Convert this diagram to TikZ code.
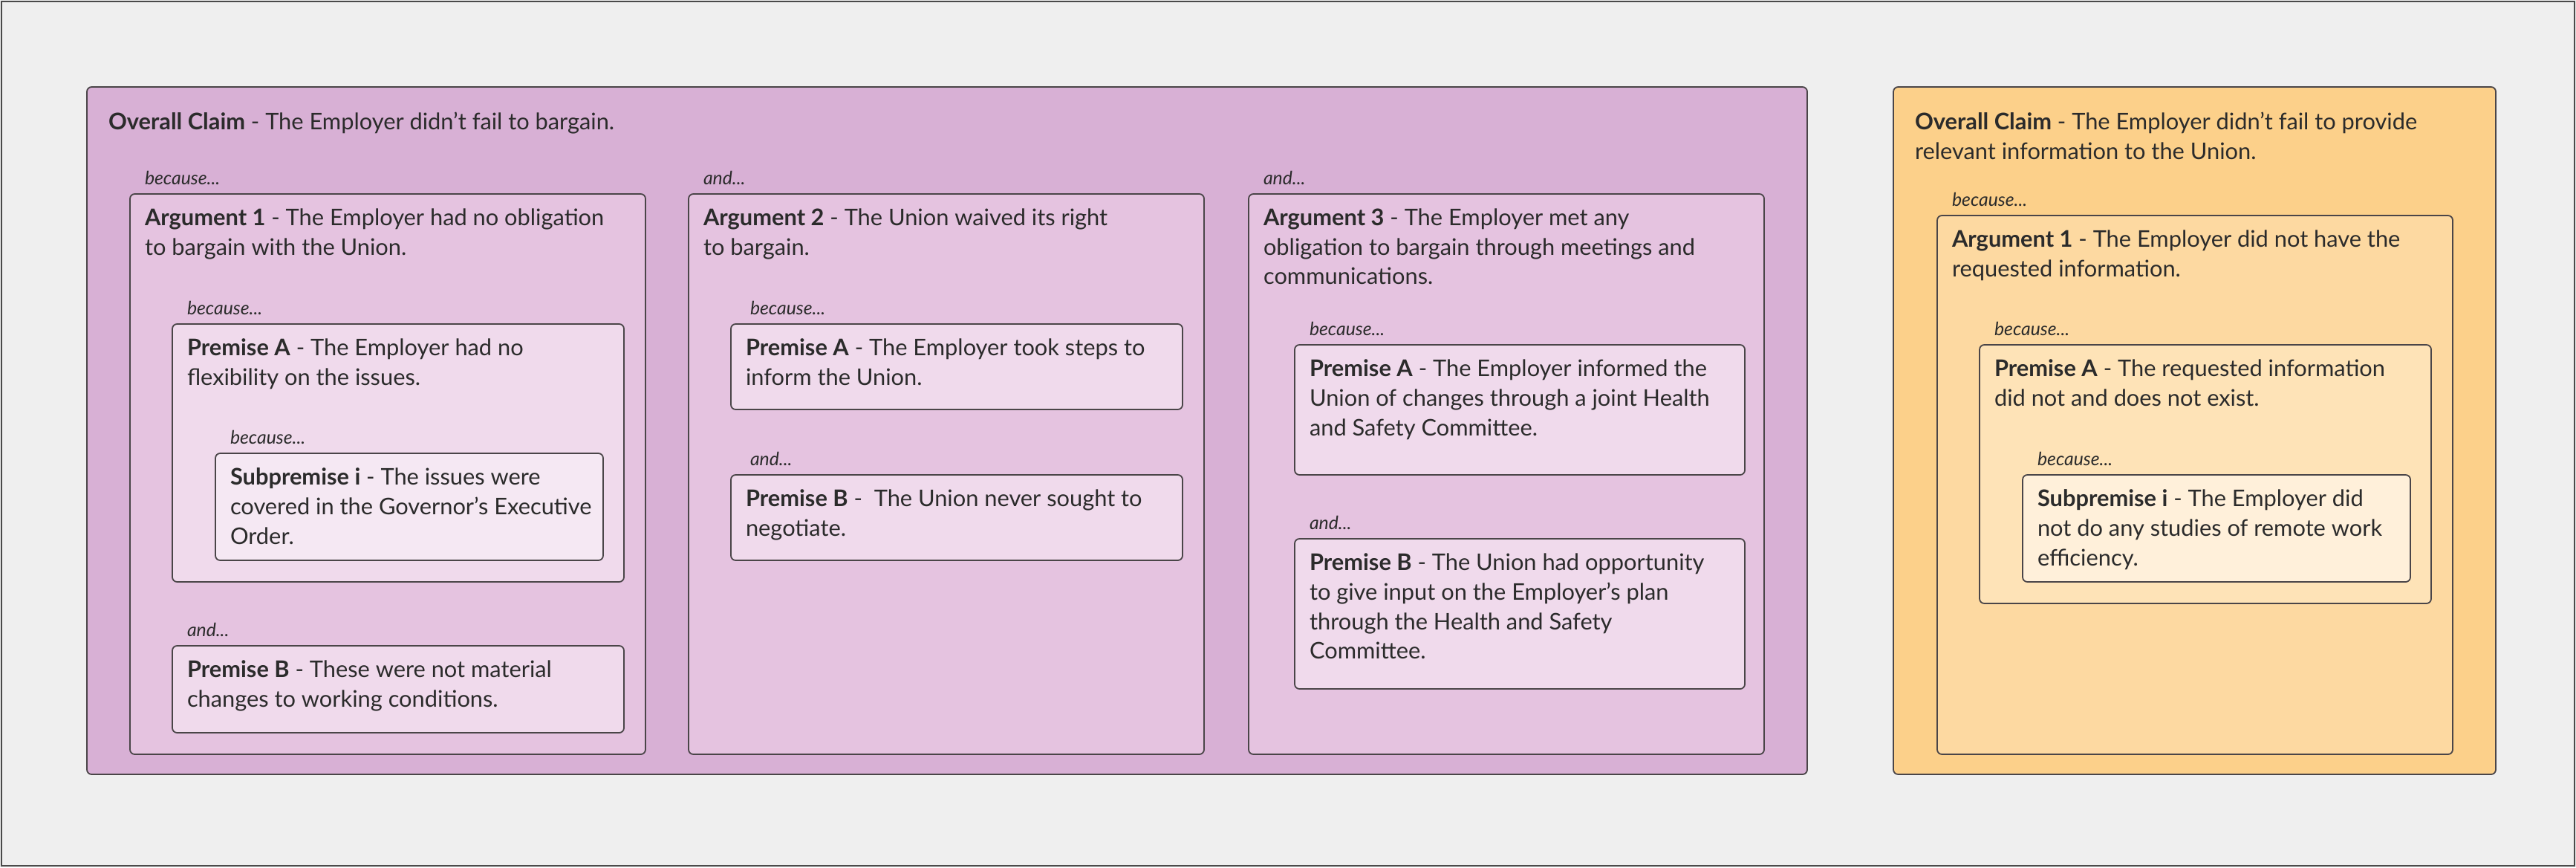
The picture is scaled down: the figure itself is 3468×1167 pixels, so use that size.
\documentclass[tikz,border=0pt]{standalone}
\usepackage{fontspec}
\setmainfont{Lato}
\usetikzlibrary{fit}

\definecolor{page background color}{HTML}{EFEFEF}
\definecolor{page frame color}{HTML}{4A4A4A}
\definecolor{box border color}{HTML}{4A4548}
\definecolor{text color}{HTML}{2B2B2B}
\definecolor{bargain color 1}{HTML}{D8B0D5}
\definecolor{bargain color 2}{HTML}{E5C3E0}
\definecolor{bargain color 3}{HTML}{F0DAEC}
\definecolor{bargain color 4}{HTML}{F5E8F3}
\definecolor{info color 1}{HTML}{FCD08A}
\definecolor{info color 2}{HTML}{FDD9A1}
\definecolor{info color 3}{HTML}{FEE3B7}
\definecolor{info color 4}{HTML}{FFF0DA}

\tikzset{
    x={0.25pt},
    y={-0.25pt},
    page background/.style={
        fill=page background color,
    },
    page frame/.style={
        draw=page frame color,
        line width={0.5pt},
    },
    box/.style={
        draw=box border color,
        fill={#1},
        line width={0.45pt},
        rounded corners={1.6pt},
        inner sep=0pt,
        outer sep=0pt,
    },
    box text/.style={
        anchor=north west,
        align=left,
        inner sep=0pt,
        outer sep=0pt,
        text=text color,
        font={\fontsize{7.7}{9.9}\selectfont},
    },
    link label/.style={
        anchor=south west,
        inner sep=0pt,
        outer sep=0pt,
        text=text color,
        font={\fontsize{6.2}{7}\selectfont\itshape},
    },
}

\begin{document}
\begin{tikzpicture}
% page
\useasboundingbox (0,0) rectangle (3468,1167);
\path[page background] (0,0) rectangle (3468,1167);
\path[page frame] (2,2) rectangle (3466,1165);
% claim: failure to bargain
\node[box={bargain color 1}, fit={(117,117) (2433,1042)}] (bargain) {};
\node[box text] (bargain text) at ([shift={(29,34)}]bargain.north west) {\textbf{Overall Claim} - The Employer didn’t fail to bargain.};
\node[box={bargain color 2}, fit={(175,261) (869,1015)}] (bargain arg1) {};
\node[box={bargain color 2}, fit={(927,261) (1621,1015)}] (bargain arg2) {};
\node[box={bargain color 2}, fit={(1681,261) (2375,1015)}] (bargain arg3) {};
\node[link label] at ([shift={(20,-12)}]bargain arg1.north west) (bargain arg1 link) {because...};
\node[link label] at ([shift={(20,-12)}]bargain arg2.north west) (bargain arg2 link) {and...};
\node[link label] at ([shift={(20,-12)}]bargain arg3.north west) (bargain arg3 link) {and...};
\node[box text] (bargain arg1 text) at ([shift={(20,20)}]bargain arg1.north west) {\textbf{Argument 1} - The Employer had no obligation\\to bargain with the Union.};
\node[box text] (bargain arg2 text) at ([shift={(20,20)}]bargain arg2.north west) {\textbf{Argument 2} - The Union waived its right\\to bargain.};
\node[box text] (bargain arg3 text) at ([shift={(20,20)}]bargain arg3.north west) {\textbf{Argument 3} - The Employer met any\\obligation to bargain through meetings and\\communications.};
% premises of argument 1
\node[box={bargain color 3}, fit={(232,436) (840,783)}] (bargain arg1 prem a) {};
\node[link label] at ([shift={(20,-12)}]bargain arg1 prem a.north west) (bargain arg1 prem a link) {because...};
\node[box text] (bargain arg1 prem a text) at ([shift={(20,20)}]bargain arg1 prem a.north west) {\textbf{Premise A} - The Employer had no\\flexibility on the issues.};
\node[box={bargain color 4}, fit={(290,610) (812,754)}] (bargain arg1 sub i) {};
\node[link label] at ([shift={(20,-12)}]bargain arg1 sub i.north west) (bargain arg1 sub i link) {because...};
\node[box text] (bargain arg1 sub i text) at ([shift={(20,20)}]bargain arg1 sub i.north west) {\textbf{Subpremise i} - The issues were\\covered in the Governor’s Executive\\Order.};
\node[box={bargain color 3}, fit={(232,869) (840,986)}] (bargain arg1 prem b) {};
\node[link label] at ([shift={(20,-12)}]bargain arg1 prem b.north west) (bargain arg1 prem b link) {and...};
\node[box text] (bargain arg1 prem b text) at ([shift={(20,20)}]bargain arg1 prem b.north west) {\textbf{Premise B} - These were not material\\changes to working conditions.};
% premises of argument 2
\node[box={bargain color 3}, fit={(984,436) (1592,551)}] (bargain arg2 prem a) {};
\node[link label] at ([shift={(26,-12)}]bargain arg2 prem a.north west) (bargain arg2 prem a link) {because...};
\node[box text] (bargain arg2 prem a text) at ([shift={(20,20)}]bargain arg2 prem a.north west) {\textbf{Premise A} - The Employer took steps to\\inform the Union.};
\node[box={bargain color 3}, fit={(984,639) (1592,754)}] (bargain arg2 prem b) {};
\node[link label] at ([shift={(26,-12)}]bargain arg2 prem b.north west) (bargain arg2 prem b link) {and...};
\node[box text] (bargain arg2 prem b text) at ([shift={(20,20)}]bargain arg2 prem b.north west) {\textbf{Premise B} -\ \ The Union never sought to\\negotiate.};
% premises of argument 3
\node[box={bargain color 3}, fit={(1743,464) (2349,639)}] (bargain arg3 prem a) {};
\node[link label] at ([shift={(20,-12)}]bargain arg3 prem a.north west) (bargain arg3 prem a link) {because...};
\node[box text] (bargain arg3 prem a text) at ([shift={(20,20)}]bargain arg3 prem a.north west) {\textbf{Premise A} - The Employer informed the\\Union of changes through a joint Health\\and Safety Committee.};
\node[box={bargain color 3}, fit={(1743,725) (2349,927)}] (bargain arg3 prem b) {};
\node[link label] at ([shift={(20,-12)}]bargain arg3 prem b.north west) (bargain arg3 prem b link) {and...};
\node[box text] (bargain arg3 prem b text) at ([shift={(20,20)}]bargain arg3 prem b.north west) {\textbf{Premise B} - The Union had opportunity\\to give input on the Employer’s plan\\through the Health and Safety\\Committee.};
% claim: failure to provide information
\node[box={info color 1}, fit={(2549,117) (3360,1042)}] (info) {};
\node[box text] (info text) at ([shift={(29,34)}]info.north west) {\textbf{Overall Claim} - The Employer didn’t fail to provide\\relevant information to the Union.};
\node[box={info color 2}, fit={(2608,290) (3302,1015)}] (info arg1) {};
\node[link label] at ([shift={(20,-12)}]info arg1.north west) (info arg1 link) {because...};
\node[box text] (info arg1 text) at ([shift={(20,20)}]info arg1.north west) {\textbf{Argument 1} - The Employer did not have the\\requested information.};
\node[box={info color 3}, fit={(2665,464) (3273,812)}] (info arg1 prem a) {};
\node[link label] at ([shift={(20,-12)}]info arg1 prem a.north west) (info arg1 prem a link) {because...};
\node[box text] (info arg1 prem a text) at ([shift={(20,20)}]info arg1 prem a.north west) {\textbf{Premise A} - The requested information\\did not and does not exist.};
\node[box={info color 4}, fit={(2723,639) (3245,783)}] (info arg1 sub i) {};
\node[link label] at ([shift={(20,-12)}]info arg1 sub i.north west) (info arg1 sub i link) {because...};
\node[box text] (info arg1 sub i text) at ([shift={(20,20)}]info arg1 sub i.north west) {\textbf{Subpremise i} - The Employer did\\not do any studies of remote work\\efficiency.};
\end{tikzpicture}
\end{document}
